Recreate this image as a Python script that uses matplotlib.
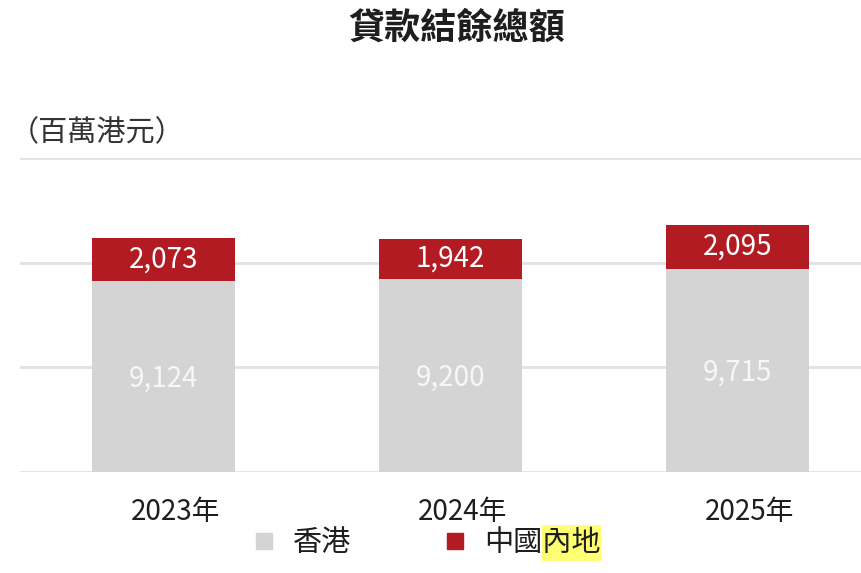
import matplotlib
matplotlib.use("Agg")
import matplotlib.pyplot as plt
import matplotlib.transforms as mtransforms
import numpy as np
from matplotlib.lines import Line2D
from matplotlib.patches import Rectangle

plt.rcParams['font.family'] = ['Noto Sans CJK TC', 'DejaVu Sans']

# data
years = ["2023年", "2024年", "2025年"]
seriesNames = ["香港", "中國內地"]
hongKong = [9124, 9200, 9715]
mainland = [2073, 1942, 2095]
title = "貸款結餘總額"
unitLabel = "（百萬港元）"

grayColor = "#D4D4D4"
redColor = "#B31B23"
gridColor = "#E2E2E2"
textColor = "#1E1E1E"

fig = plt.figure(figsize=(8.61, 5.73), dpi=100)
ax = fig.add_axes([20 / 861, 101 / 573, 1 - 20 / 861, 314 / 573])

x = np.arange(len(years))
barWidth = 0.5
hkBars = ax.bar(x, hongKong, width=barWidth, color=grayColor, zorder=2)
mlBars = ax.bar(x, mainland, width=barWidth, bottom=hongKong, color=redColor, zorder=2)

for i in range(len(years)):
    ax.text(x[i], hongKong[i] / 2 - 100, f"{hongKong[i]:,}", ha='center', va='center',
            color='#F7F7F7', fontsize=20, zorder=3)
    ax.text(x[i], hongKong[i] + mainland[i] / 2, f"{mainland[i]:,}", ha='center',
            va='center', color='white', fontsize=20, zorder=3)

ax.set_xlim(-0.5, 2.43)
ax.set_ylim(0, 15000)
ax.set_yticks([0, 5000, 10000, 15000])
ax.yaxis.grid(True, color=gridColor, linewidth=2)
ax.set_axisbelow(True)
ax.tick_params(axis='y', length=0, labelleft=False)
ax.tick_params(axis='x', length=0, pad=18, labelsize=20, labelcolor=textColor)
ax.set_xticks(x)
ax.set_xticklabels(years)
# labels in the original sit a little right of the bar centre
shift = mtransforms.ScaledTranslation(0.12, 0, fig.dpi_scale_trans)
for lbl in ax.get_xticklabels():
    lbl.set_transform(lbl.get_transform() + shift)
for s in ax.spines.values():
    s.set_visible(False)

fig.text(457 / 861, 1 - 28 / 573, title, ha='center', va='center',
         fontsize=26, fontweight='bold', color=textColor)
fig.text(10 / 861, 1 - 133 / 573, unitLabel, ha='left', va='center',
         fontsize=21, color='#333333')

handles = [Line2D([], [], marker='s', linestyle='none', markersize=11,
                  markerfacecolor=c, markeredgecolor=c)
           for c in [grayColor, redColor]]
leg = fig.legend(handles, seriesNames, loc='center', bbox_to_anchor=(425 / 861, 1 - 543 / 573),
                 ncol=2, frameon=False, fontsize=21, handletextpad=0.5,
                 columnspacing=3.05, handlelength=1.0)
for t in leg.get_texts():
    t.set_color(textColor)

# yellow highlight behind the last two characters of the mainland label
fig.canvas.draw()
renderer = fig.canvas.get_renderer()
bb = leg.get_texts()[1].get_window_extent(renderer).transformed(fig.transFigure.inverted())
hx0 = bb.x0 + bb.width / 2
pad = 3 / 573
fig.add_artist(Rectangle((hx0, bb.y0 - pad), bb.x1 - hx0, bb.height + 2 * pad,
                         transform=fig.transFigure, facecolor='#FFFF73',
                         edgecolor='none', zorder=-1))

fig.savefig("out.png", dpi=100)
